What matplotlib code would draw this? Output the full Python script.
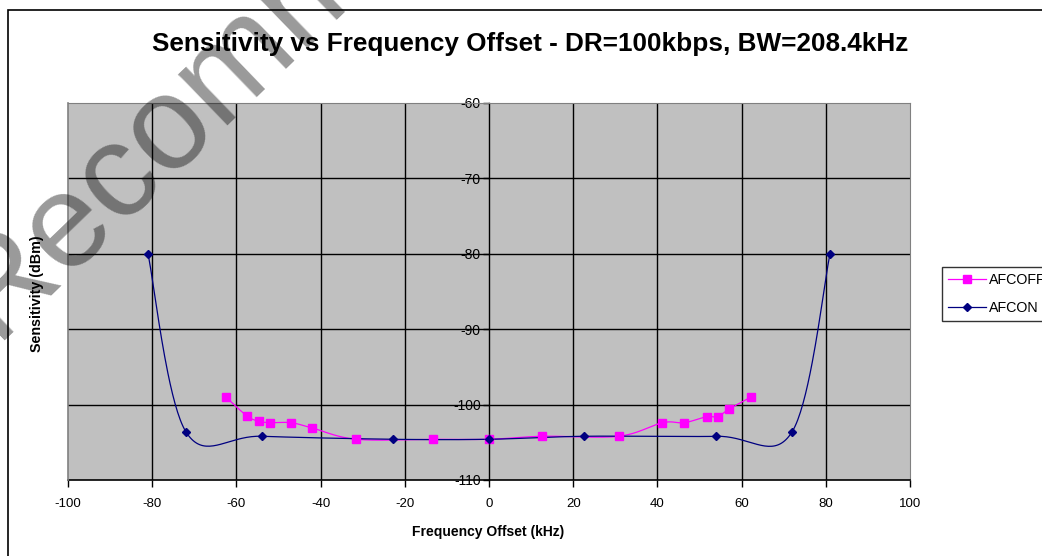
import numpy as np
import matplotlib
matplotlib.use('Agg')
import matplotlib.pyplot as plt
from matplotlib.patches import Rectangle

plt.rcParams['font.family'] = ['Liberation Sans', 'DejaVu Sans']

# data
afcoff_x = [-62.5, -57.5, -54.7, -52.0, -47.0, -42.0, -31.5, -13.2, 0.0,
            12.7, 30.8, 41.2, 46.4, 51.7, 54.3, 57.0, 62.2]
afcoff_y = [-99.0, -101.5, -102.2, -102.4, -102.4, -103.1, -104.6, -104.6, -104.6,
            -104.2, -104.2, -102.4, -102.4, -101.6, -101.6, -100.6, -99.0]
afcon_x = [-81.0, -72.0, -54.0, -22.7, 0.0, 22.5, 54.0, 72.0, 81.0]
afcon_y = [-80.0, -103.6, -104.2, -104.6, -104.6, -104.2, -104.2, -103.6, -80.0]

xticks = [-100, -80, -60, -40, -20, 0, 20, 40, 60, 80, 100]
yticks = [-110, -100, -90, -80, -70, -60]


def smooth(xs, ys, n=40):
    # excel style smoothed line (bezier through the points)
    p = np.column_stack([xs, ys]).astype(float)
    q = np.vstack([p[:1], p, p[-1:]])
    out = []
    for i in range(len(p) - 1):
        p0, p1, p2, p3 = q[i], q[i + 1], q[i + 2], q[i + 3]
        c1 = p1 + (p2 - p0) / 6.0
        c2 = p2 - (p3 - p1) / 6.0
        t = np.linspace(0, 1, n)[:, None]
        seg = ((1 - t) ** 3) * p1 + 3 * ((1 - t) ** 2) * t * c1 + 3 * (1 - t) * t ** 2 * c2 + t ** 3 * p2
        out.append(seg)
    out = np.vstack(out)
    return out[:, 0], out[:, 1]


fig = plt.figure(figsize=(10.42, 5.56), dpi=100)
fig.patch.set_facecolor('white')
ax = fig.add_axes([68 / 1042, 1 - 480 / 556, (910 - 68) / 1042, (480 - 103) / 556])
ax.set_facecolor('#C0C0C0')

for xv in xticks[1:-1]:
    if xv != 0:
        ax.axvline(xv, color='black', lw=1.0, zorder=1)
for yv in yticks[1:-1]:
    ax.axhline(yv, color='black', lw=1.0, zorder=1)

sx, sy = smooth(afcoff_x, afcoff_y)
ax.plot(sx, sy, color='#FF00FF', lw=0.9, zorder=3)
ax.plot(afcoff_x, afcoff_y, ls='none', marker='s', ms=5.5, color='#FF00FF', zorder=4)
sx, sy = smooth(afcon_x, afcon_y)
ax.plot(sx, sy, color='#000080', lw=0.9, zorder=3)
ax.plot(afcon_x, afcon_y, ls='none', marker='D', ms=4.5, color='#000080', zorder=4)

ax.set_xlim(-100, 100)
ax.set_ylim(-110, -60)
ax.set_xticks(xticks)
ax.set_yticks(yticks)
ax.set_xticklabels([str(v) for v in xticks], fontsize=9.5)
ax.set_yticklabels([str(v) for v in yticks], fontsize=9.5)

ax.spines['left'].set_position(('data', 0))
ax.spines['left'].set_color('black')
ax.spines['bottom'].set_color('black')
ax.spines['bottom'].set_linewidth(1.2)
ax.spines['left'].set_linewidth(1.0)
ax.spines['top'].set_color('#808080')
ax.spines['right'].set_color('#808080')
ax.tick_params(axis='x', direction='out', length=5, width=1, pad=8)
ax.tick_params(axis='y', direction='out', length=4, width=1, pad=2)

# left border of the plot area
ax.plot([-100, -100], [-110, -60], color='#808080', lw=1.2, clip_on=False, zorder=5)

fig.text(530 / 1042, 1 - 44 / 556, 'Sensitivity vs Frequency Offset - DR=100kbps, BW=208.4kHz',
         ha='center', va='center', fontsize=18.8, fontweight='bold')
fig.text(488 / 1042, 1 - 532 / 556, 'Frequency Offset (kHz)', ha='center', va='center',
         fontsize=10, fontweight='bold')
fig.text(37 / 1042, 1 - 294 / 556, 'Sensitivity (dBm)', ha='center', va='center',
         rotation=90, fontsize=10.3, fontweight='bold')

leg_handles = [
    plt.Line2D([], [], color='#FF00FF', lw=0.9, marker='s', ms=5.5),
    plt.Line2D([], [], color='#000080', lw=0.9, marker='D', ms=4.5),
]
leg = fig.legend(leg_handles, ['AFCOFF', 'AFCON'], loc='upper left',
                 bbox_to_anchor=(942 / 1042, 1 - 267 / 556), fontsize=10.3,
                 frameon=True, fancybox=False, shadow=False, borderpad=0.45,
                 handlelength=2.6, handletextpad=0.2, labelspacing=0.95,
                 borderaxespad=0)
leg.get_frame().set_edgecolor('black')
leg.get_frame().set_linewidth(1.0)

# chart border
fig.add_artist(Rectangle((8 / 1042, -0.2), 1.2, 1.2 - 10 / 556, transform=fig.transFigure,
                         fill=False, edgecolor='black', lw=1.2))

# watermark
fig.text(-6 / 1042, 1 - 340 / 556, 'Recommended', fontsize=96,
         rotation=44, rotation_mode='anchor', ha='left', va='baseline',
         color='black', alpha=0.4, zorder=10)

fig.savefig('out.png', dpi=100)
